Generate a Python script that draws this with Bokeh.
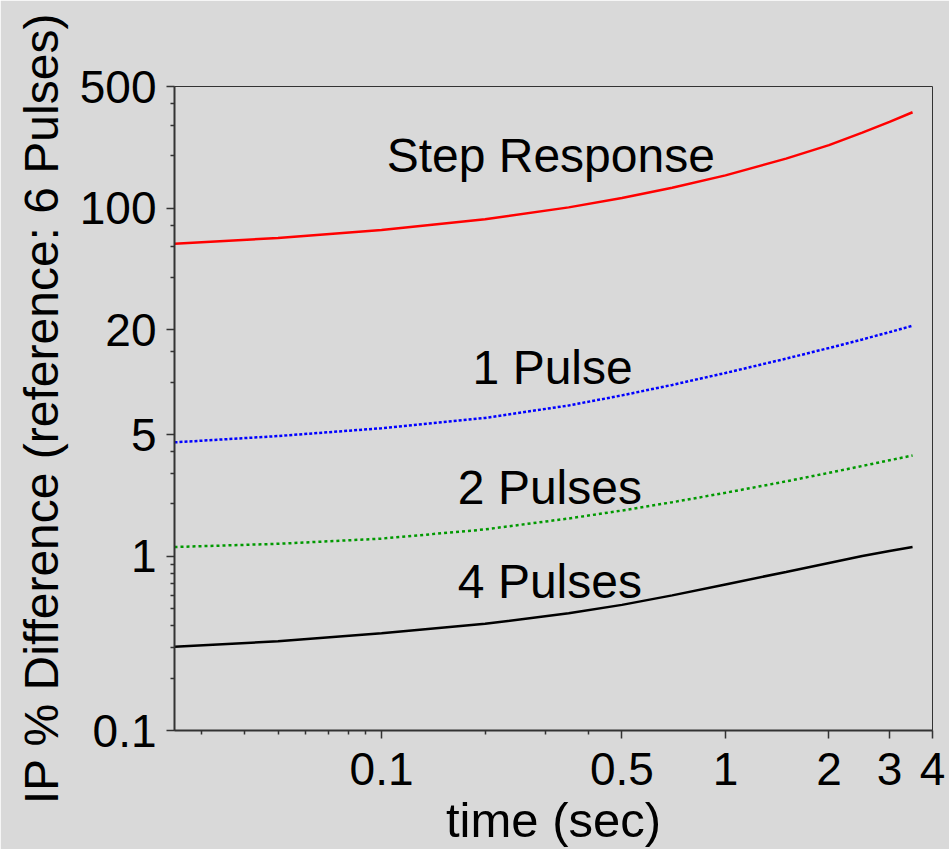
from bokeh.plotting import figure
from bokeh.models import FixedTicker, CustomJSTickFormatter, Label, Range1d
from bokeh.embed import file_html
from bokeh.resources import INLINE

# ---- data ----
time_s = [0.025, 0.05, 0.1, 0.2, 0.35, 0.5, 0.7, 1.0, 1.5, 2.0, 2.5, 3.0, 3.5]
step_response = [62.4, 67.5, 75.0, 86.5, 101.1, 114.3, 130.9, 154.3, 192.6, 230.1, 271.4, 312.9, 355.6]
one_pulse = [4.52, 4.91, 5.45, 6.24, 7.36, 8.41, 9.66, 11.31, 13.67, 15.74, 17.63, 19.41, 21.13]
two_pulses = [1.132, 1.181, 1.265, 1.429, 1.651, 1.834, 2.046, 2.319, 2.696, 3.020, 3.307, 3.566, 3.798]
four_pulses = [0.3027, 0.3256, 0.3618, 0.4102, 0.4710, 0.5268, 0.5972, 0.6904, 0.8139, 0.9168, 1.0053, 1.0737, 1.132]

x_major = [0.1, 0.5, 1, 2, 3, 4]
x_minor = [0.03, 0.04, 0.05, 0.06, 0.07, 0.08, 0.09, 0.2, 0.3, 0.4]
y_major = [0.1, 1, 5, 20, 100, 500]
y_minor = [0.2, 0.3, 0.4, 0.5, 0.6, 0.7, 0.8, 0.9, 2, 3, 4, 10, 15, 40, 60, 80, 200, 300, 400]

label_texts = ["Step Response", "1 Pulse", "2 Pulses", "4 Pulses"]
label_x = [0.1035, 0.184, 0.1667, 0.1667]
label_y = [201.0, 12.1, 2.5, 0.713]

BG = "#d9d9d9"
FONT = "Liberation Sans"

p = figure(width=949, height=849, x_axis_type="log", y_axis_type="log",
           x_range=Range1d(0.025, 4), y_range=Range1d(0.1, 500),
           output_backend="svg", toolbar_location=None,
           background_fill_color=BG, border_fill_color=BG,
           min_border_left=174, min_border_right=17,
           min_border_top=86, min_border_bottom=117)

p.outline_line_color = "#333333"
p.outline_line_width = 1
p.grid.visible = False

p.line(time_s, step_response, line_color="#ff0000", line_width=2.5)
p.line(time_s, one_pulse, line_color="#0000ff", line_width=2.5, line_dash="3 2")
p.line(time_s, two_pulses, line_color="#009900", line_width=2.5, line_dash="3 3")
p.line(time_s, four_pulses, line_color="#000000", line_width=2.5)

for txt, lx, ly in zip(label_texts, label_x, label_y):
    p.add_layout(Label(x=lx, y=ly, text=txt, text_font=FONT, text_font_size="48px",
                       text_color="black", text_baseline="alphabetic", text_align="left"))

fmt = CustomJSTickFormatter(code="return tick.toString();")

xa = p.xaxis[0]
xa.ticker = FixedTicker(ticks=x_major, minor_ticks=x_minor)
xa.formatter = fmt
xa.axis_label = "time (sec)"
ya = p.yaxis[0]
ya.ticker = FixedTicker(ticks=y_major, minor_ticks=y_minor)
ya.formatter = fmt
ya.axis_label = "IP % Difference (reference: 6 Pulses)"

for ax in (xa, ya):
    ax.axis_line_color = "#333333"
    ax.axis_line_width = 2
    ax.major_tick_line_color = "#333333"
    ax.minor_tick_line_color = "#333333"
    ax.major_tick_line_width = 1.5
    ax.minor_tick_line_width = 1.5
    ax.major_tick_in = 0
    ax.major_tick_out = 8
    ax.minor_tick_in = 0
    ax.minor_tick_out = 4
    ax.major_label_text_font = FONT
    ax.major_label_text_font_size = "46px"
    ax.major_label_text_color = "black"
    ax.axis_label_text_font = FONT
    ax.axis_label_text_font_style = "normal"
    ax.axis_label_text_color = "black"

xa.major_label_standoff = 14
xa.axis_label_text_font_size = "49px"
xa.axis_label_standoff = 5
ya.major_label_standoff = 10
ya.axis_label_text_font_size = "48px"
ya.axis_label_standoff = 9

open("out.html", "w").write(file_html(p, INLINE))
